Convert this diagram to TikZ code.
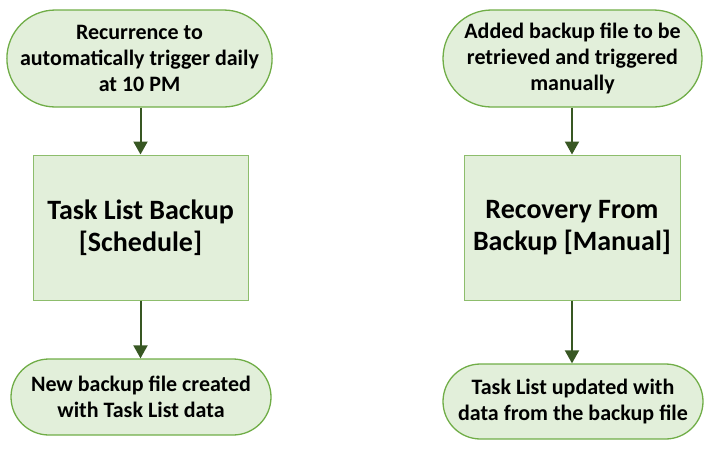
\documentclass[tikz,border=0pt]{standalone}
\usepackage{fontspec}
\setmainfont{Carlito}
\usetikzlibrary{shapes.misc,arrows.meta}
\definecolor{boxfill}{HTML}{E2EFDA}
\definecolor{boxline}{HTML}{70AD47}
\definecolor{arrowc}{HTML}{385723}
\tikzset{
  term/.style={rounded rectangle, draw=boxline, fill=boxfill, line width=1.3pt,
    align=center, inner sep=0pt, font=\bfseries\fontsize{22}{26}\selectfont},
  proc/.style={rectangle, draw=boxline!80, fill=boxfill, line width=1pt,
    align=center, inner sep=0pt, font=\bfseries\fontsize{28}{32}\selectfont},
  conn/.style={draw=arrowc, line width=2pt, -{Triangle[length=13pt,width=14pt]}}
}
\begin{document}
\begin{tikzpicture}[x=1pt,y=1pt]
\useasboundingbox (0,0) rectangle (713,-451);
\node[term, minimum width=257pt, minimum height=97pt] (t1) at (139.5,-58.5)
  {Recurrence to\\automatically trigger daily\\at 10 PM};
\node[proc, minimum width=215pt, minimum height=145pt] (p1) at (140.5,-227.5)
  {Task List Backup\\{[}Schedule{]}};
\node[term, minimum width=260pt, minimum height=76pt] (b1) at (141,-397)
  {New backup file created\\with Task List data};
\node[term, minimum width=259pt, minimum height=97pt] (t2) at (572.5,-58.5)
  {Added backup file to be\\retrieved and triggered\\manually};
\node[proc, minimum width=216pt, minimum height=145pt] (p2) at (572,-227.5)
  {Recovery From\\Backup {[}Manual{]}};
\node[term, minimum width=260pt, minimum height=75pt] (b2) at (573,-401.5)
  {Task List updated with\\data from the backup file};
\draw[conn] (t1.south -| p1.north) -- (p1.north);
\draw[conn] (p1.south) -- (b1.north -| p1.south);
\draw[conn] (t2.south -| p2.north) -- (p2.north);
\draw[conn] (p2.south) -- (b2.north -| p2.south);
\end{tikzpicture}
\end{document}
